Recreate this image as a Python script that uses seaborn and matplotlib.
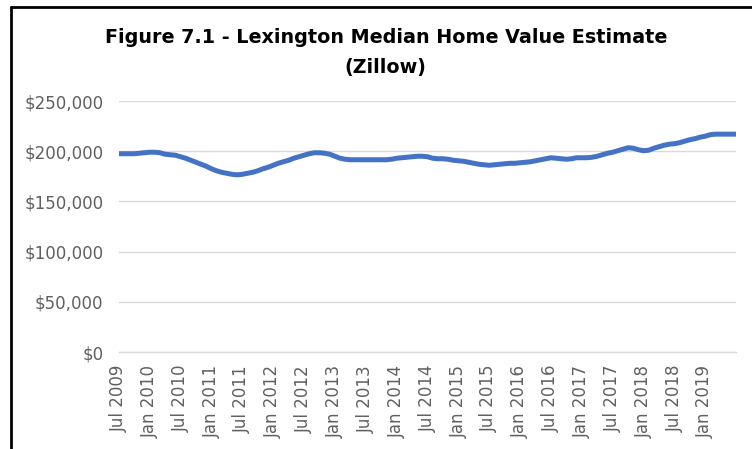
import matplotlib
matplotlib.use("Agg")
import matplotlib.pyplot as plt
from matplotlib.lines import Line2D
from matplotlib.ticker import FuncFormatter
import seaborn as sns
import pandas as pd

# Monthly median home value estimates, Jul 2009 - Jul 2019 (dollars)
home_values = [
    197500, 197500, 197500, 197500, 198000, 198500,   # Jul-Dec 2009
    199000, 199000, 198500, 197000, 196500, 196000,   # Jan-Jun 2010
    194500, 193000, 191000, 189000, 187000, 185000,   # Jul-Dec 2010
    182500, 180500, 179000, 178000, 177000, 176500,   # Jan-Jun 2011
    177000, 178000, 179000, 180500, 182500, 184000,   # Jul-Dec 2011
    186000, 188000, 189500, 191000, 193000, 194500,   # Jan-Jun 2012
    196000, 197500, 198500, 198500, 198000, 197000,   # Jul-Dec 2012
    195000, 193000, 192000, 191500, 191500, 191500,   # Jan-Jun 2013
    191500, 191500, 191500, 191500, 191500, 192000,   # Jul-Dec 2013
    193000, 193500, 194000, 194500, 195000, 195000,   # Jan-Jun 2014
    194500, 193000, 192500, 192500, 192000, 191000,   # Jul-Dec 2014
    190500, 190000, 189000, 188000, 187000, 186500,   # Jan-Jun 2015
    186000, 186500, 187000, 187500, 188000, 188000,   # Jul-Dec 2015
    188500, 189000, 189500, 190500, 191500, 192500,   # Jan-Jun 2016
    193500, 193000, 192500, 192000, 192500, 193500,   # Jul-Dec 2016
    193500, 193500, 194000, 195000, 196500, 198000,   # Jan-Jun 2017
    199000, 200500, 202000, 203500, 203000, 201500,   # Jul-Dec 2017
    200500, 201000, 203000, 204500, 206000, 207000,   # Jan-Jun 2018
    207500, 208500, 210000, 211500, 212500, 214000,   # Jul-Dec 2018
    215000, 216500, 217000, 217000, 217000, 217000,   # Jan-Jun 2019
    217000,                                           # Jul 2019
]
month_labels = [
    "Jul 2009", "Jan 2010", "Jul 2010", "Jan 2011", "Jul 2011", "Jan 2012",
    "Jul 2012", "Jan 2013", "Jul 2013", "Jan 2014", "Jul 2014", "Jan 2015",
    "Jul 2015", "Jan 2016", "Jul 2016", "Jan 2017", "Jul 2017", "Jan 2018",
    "Jul 2018", "Jan 2019",
]
y_ticks = [0, 50000, 100000, 150000, 200000, 250000]

df = pd.DataFrame({"month": range(len(home_values)), "value": home_values})

sns.set_style("white")
plt.rcParams["font.family"] = ["DejaVu Sans"]

fig = plt.figure(figsize=(7.52, 4.49), dpi=100)
ax = fig.add_axes([0.158, 0.216, 0.821, 0.559])

sns.lineplot(data=df, x="month", y="value", ax=ax, color="#4472C4",
             linewidth=3.6, solid_capstyle="round", solid_joinstyle="round")

n = len(home_values) - 1
ax.set_xlim(0, n)
ax.set_ylim(0, 250000)
ax.set_yticks(y_ticks)
ax.yaxis.set_major_formatter(FuncFormatter(lambda v, p: f"${v:,.0f}"))
ax.set_xticks(list(range(0, n + 1, 6)))
ax.set_xticklabels(month_labels + [""], rotation=90)
ax.set_xlabel("")
ax.set_ylabel("")

ax.grid(axis="y", color="#D9D9D9", linewidth=1.0)
ax.set_axisbelow(True)
for side in ("left", "right", "top"):
    ax.spines[side].set_visible(False)
ax.spines["bottom"].set_color("#D9D9D9")
ax.spines["bottom"].set_linewidth(1.0)
ax.tick_params(axis="x", which="major", direction="out", length=4.3,
               width=1.0, color="#D9D9D9", labelsize=12,
               labelcolor="#606060", pad=5)
ax.tick_params(axis="y", length=0, labelsize=12, labelcolor="#606060", pad=11)

fig.text(0.513, 0.917, "Figure 7.1 - Lexington Median Home Value Estimate",
         ha="center", va="center", fontsize=13.8, fontweight="bold",
         color="#000000")
fig.text(0.513, 0.850, "(Zillow)", ha="center", va="center",
         fontsize=13.8, fontweight="bold", color="#000000")

# outer frame on the top and left edges
fig.add_artist(Line2D([0.0145, 1.0], [0.984, 0.984], transform=fig.transFigure,
                      color="black", linewidth=2.0))
fig.add_artist(Line2D([0.0145, 0.0145], [0.0, 0.984], transform=fig.transFigure,
                      color="black", linewidth=2.0))

fig.savefig("out.png", dpi=100)
